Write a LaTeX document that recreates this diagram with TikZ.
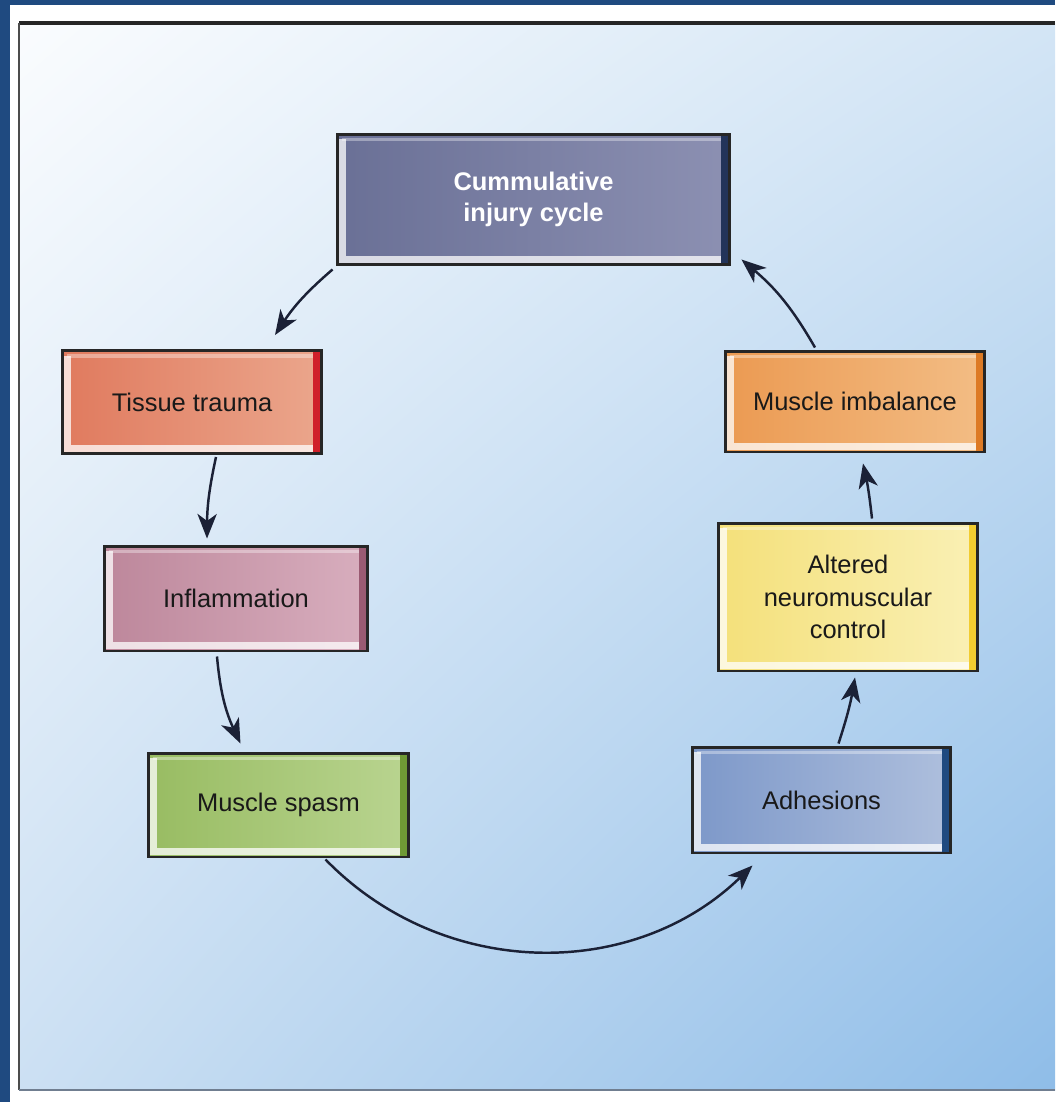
\documentclass[tikz,border=0pt]{standalone}
\usepackage{fontspec}
\setmainfont{Liberation Sans}
\usetikzlibrary{arrows.meta,calc,shadings}
\definecolor{frameblue}{HTML}{1F4A80}
\definecolor{arrowink}{HTML}{1B2136}
\definecolor{panelTL}{HTML}{FAFCFE}
\definecolor{panelTR}{HTML}{D3E5F5}
\definecolor{panelBL}{HTML}{CCE0F3}
\definecolor{panelBR}{HTML}{8FBDE8}
\definecolor{cumA}{HTML}{6A7096}
\definecolor{cumB}{HTML}{8C90B2}
\definecolor{cumE}{HTML}{23345A}
\definecolor{tisA}{HTML}{E07A5E}
\definecolor{tisB}{HTML}{EBA68C}
\definecolor{tisE}{HTML}{D0202A}
\definecolor{infA}{HTML}{BD879B}
\definecolor{infB}{HTML}{D8AEBE}
\definecolor{infE}{HTML}{9A5A72}
\definecolor{spaA}{HTML}{98BC62}
\definecolor{spaB}{HTML}{B9D490}
\definecolor{spaE}{HTML}{6F9A35}
\definecolor{adhA}{HTML}{7D98C9}
\definecolor{adhB}{HTML}{AEBFDD}
\definecolor{adhE}{HTML}{1F4A80}
\definecolor{altA}{HTML}{F4E07A}
\definecolor{altB}{HTML}{FAF0B5}
\definecolor{altE}{HTML}{F2CC30}
\definecolor{imbA}{HTML}{EB9A52}
\definecolor{imbB}{HTML}{F3BD85}
\definecolor{imbE}{HTML}{DD7A25}

\begin{document}
\begin{tikzpicture}[x=0.02cm, y=-0.02cm, >={Stealth[length=14pt,width=11pt,inset=4pt]},
  cell/.style n args={3}{draw=black!85, line width=1.7pt, left color=#1, right color=#2,
    minimum width=5.2cm, minimum height=2.06cm, inner sep=0pt, align=center,
    font=\fontsize{14.5}{17.5}\selectfont, text=black!90,
    path picture={
      \draw[#3, line width=4pt] ([xshift=-3pt]path picture bounding box.north east)
        -- ([xshift=-3pt]path picture bounding box.south east);
      \draw[white, opacity=.75, line width=4pt]
        ([shift={(3pt,-3pt)}]path picture bounding box.north west)
        -- ([shift={(3pt,3pt)}]path picture bounding box.south west)
        -- ([shift={(-5pt,3pt)}]path picture bounding box.south east);
      \draw[white, opacity=.35, line width=2pt]
        ([shift={(3pt,-3pt)}]path picture bounding box.north west)
        -- ([shift={(-5pt,-3pt)}]path picture bounding box.north east);
    }},
  flow/.style={->, line width=1.4pt, draw=arrowink}]
  \useasboundingbox (0,0) rectangle (1055,1102);
  % frame and panel
  \fill[frameblue] (0,0) rectangle (1055,1102);
  \fill[white] (10,5) rectangle (1055,1102);
  \shade[upper left=panelTL, upper right=panelTR, lower left=panelBL, lower right=panelBR]
    (19,23) rectangle (1055,1090);
  \draw[black!85, line width=2.4pt] (19,23) -- (1055,23);
  \draw[black!70, line width=1.6pt] (19,23) -- (19,1090);
  \draw[black!45!frameblue!60, line width=1.6pt] (19,1090) -- (1055,1090);

  % boxes
  \node[cell={cumA}{cumB}{cumE}, minimum width=7.86cm, minimum height=2.62cm,
        text=white, font=\fontsize{14.5}{17.5}\selectfont\bfseries] (cum) at (533.5,199.5)
        {Cummulative\\injury cycle};
  \node[cell={tisA}{tisB}{tisE}] (tis) at (192,402) {Tissue trauma};
  \node[cell={infA}{infB}{infE}, minimum width=5.28cm, minimum height=2.1cm] (inf) at (236,598.5) {Inflammation};
  \node[cell={spaA}{spaB}{spaE}, minimum width=5.22cm, minimum height=2.08cm] (spa) at (278.5,805) {Muscle spasm};
  \node[cell={adhA}{adhB}{adhE}, minimum width=5.18cm, minimum height=2.12cm] (adh) at (821.5,800) {Adhesions};
  \node[cell={altA}{altB}{altE}, minimum height=2.96cm,
        font=\fontsize{14.5}{18.5}\selectfont] (alt) at (848,597) {Altered\\neuromuscular\\control};
  \node[cell={imbA}{imbB}{imbE}, minimum height=2.02cm] (imb) at (855,401.5) {Muscle imbalance};

  % cycle
  \draw[flow] ($(cum.south west)+(-3,3)$) to[bend right=8] ($(tis.north)+(83,-14)$);
  \draw[flow] ($(tis.south)+(24,2)$) to[bend right=6] ($(inf.north)+(-29,-6)$);
  \draw[flow] ($(inf.south)+(-19,4)$) to[bend right=10] ($(spa.north)+(-38,-8)$);
  \draw[flow] ($(spa.south)+(47,1)$) to[bend right=45] ($(adh.south)+(-69,11)$);
  \draw[flow] ($(adh.north)+(17,-2)$) to[bend right=4] ($(alt.south)+(7,5)$);
  \draw[flow] ($(alt.north)+(24,-3)$) to[bend right=3] ($(imb.south)+(8,10)$);
  \draw[flow] ($(imb.north)+(-40,-2)$) to[bend right=10] ($(cum.south east)+(10,-7)$);
\end{tikzpicture}
\end{document}
